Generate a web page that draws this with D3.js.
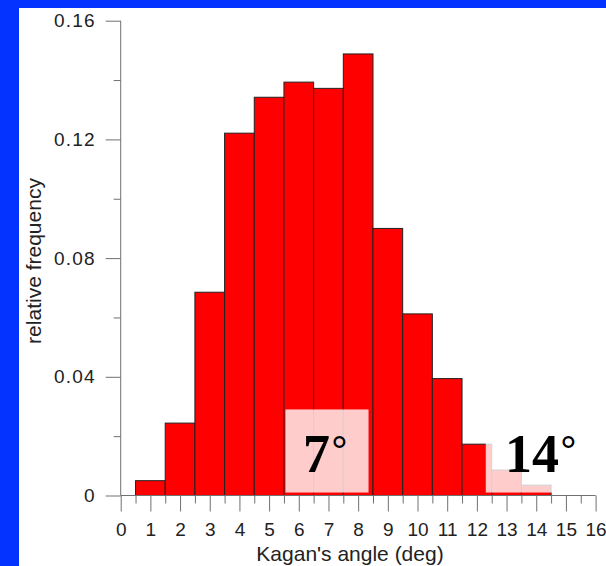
<!DOCTYPE html>
<html>
<head>
<meta charset="utf-8">
<script src="https://cdn.jsdelivr.net/npm/d3@7"></script>
<style>
    body { margin: 0; padding: 0; overflow: hidden; }
</style>
</head>
<body>
<div id="chart"></div>
<script>

// histogram of Kagan's angle, bins centred on integer degrees
let angles = [1, 2, 3, 4, 5, 6, 7, 8, 9, 10, 11, 12, 13, 14];
let freqs = [0.005, 0.0244, 0.0685, 0.1221, 0.1342, 0.1393, 0.1372, 0.1488, 0.0900, 0.0612, 0.0394, 0.0173, 0.0086, 0.0035];

let yMajorTicks = [0, 0.04, 0.08, 0.12, 0.16];
let yMinorTicks = [0.02, 0.06, 0.10, 0.14];
let xMajorTicks = d3.range(0, 17);
let xMinorTicks = d3.range(0.5, 16, 1);

// label boxes: [from, to] in degrees, text
let labels = [
    { from: 5.55, to: 8.35, text: "7" },
    { from: 12.3, to: 15.2, text: "14" }
];
let labelTop = 0.029;
let labelBottom = 0.001;

let width = 606, height = 566;
let sans = "Arial, 'Liberation Sans', sans-serif";
let serif = "'Times New Roman', 'Liberation Serif', serif";

let svg = d3.select("#chart").append("svg")
    .attr("width", width)
    .attr("height", height);

// blue slide background with white panel
svg.append("rect").attr("width", width).attr("height", height).attr("fill", "#0433ff");
svg.append("rect").attr("x", 19).attr("y", 8).attr("width", width - 19).attr("height", height - 8).attr("fill", "#fff");

let x = d3.scaleLinear().domain([0, 16]).range([120.7, 595.6]);
let y = d3.scaleLinear().domain([0, 0.16]).range([495.5, 20.7]);

// bars
svg.append("g").selectAll("rect")
    .data(angles)
    .enter()
    .append("rect")
    .attr("x", d => x(d - 0.5))
    .attr("y", (d, i) => y(freqs[i]))
    .attr("width", d => x(d + 0.5) - x(d - 0.5))
    .attr("height", (d, i) => y(0) - y(freqs[i]))
    .attr("fill", "#ff0000")
    .attr("stroke", "#222")
    .attr("stroke-width", 1);

// axes
let axisColor = "#707070";

let yAxis = svg.append("g")
    .attr("transform", "translate(" + x(0) + ",0)")
    .call(d3.axisLeft(y).tickValues(yMajorTicks).tickSize(15).tickPadding(10)
        .tickFormat(d => d === 0 ? "0" : d3.format(".2f")(d)));
svg.append("g")
    .attr("transform", "translate(" + x(0) + ",0)")
    .call(d3.axisLeft(y).tickValues(yMinorTicks).tickSize(7).tickFormat(""));

let xAxis = svg.append("g")
    .attr("transform", "translate(0," + y(0) + ")")
    .call(d3.axisBottom(x).tickValues(xMajorTicks).tickSize(16).tickPadding(11)
        .tickFormat(d3.format("d")));
svg.append("g")
    .attr("transform", "translate(0," + y(0) + ")")
    .call(d3.axisBottom(x).tickValues(xMinorTicks).tickSize(8).tickFormat(""));

svg.selectAll(".domain").remove();
svg.selectAll(".tick line").attr("stroke", axisColor);

// axis lines: x axis from 0 to 16, y axis from 0 to 0.16
svg.append("line")
    .attr("x1", x(0)).attr("x2", x(16))
    .attr("y1", y(0)).attr("y2", y(0))
    .attr("stroke", axisColor);
svg.append("line")
    .attr("x1", x(0)).attr("x2", x(0))
    .attr("y1", y(0.16)).attr("y2", y(0))
    .attr("stroke", axisColor);

yAxis.selectAll("text")
    .style("font-family", sans)
    .style("font-size", "19px")
    .style("letter-spacing", "1.2px")
    .attr("fill", "#222");
xAxis.selectAll("text")
    .style("font-family", sans)
    .style("font-size", "19px")
    .attr("fill", "#222");

// axis titles
svg.append("text")
    .attr("x", 350)
    .attr("y", 561)
    .attr("text-anchor", "middle")
    .style("font-family", sans)
    .style("font-size", "21px")
    .attr("fill", "#222")
    .text("Kagan's angle (deg)");

svg.append("text")
    .attr("transform", "translate(41,261) rotate(-90)")
    .attr("text-anchor", "middle")
    .style("font-family", sans)
    .style("font-size", "21px")
    .attr("fill", "#222")
    .text("relative frequency");

// translucent label boxes
let lab = svg.append("g").selectAll("g")
    .data(labels)
    .enter()
    .append("g");

lab.append("rect")
    .attr("x", d => x(d.from))
    .attr("y", y(labelTop))
    .attr("width", d => x(d.to) - x(d.from))
    .attr("height", y(labelBottom) - y(labelTop))
    .attr("fill", "#fff")
    .attr("fill-opacity", 0.8);

let labText = lab.append("text")
    .attr("x", (d, i) => i === 0 ? 303 : 505)
    .attr("y", 472)
    .style("font-family", serif)
    .style("font-size", "54px")
    .attr("fill", "#000");

labText.append("tspan")
    .style("font-weight", "bold")
    .text(d => d.text);
labText.append("tspan")
    .attr("dx", 1)
    .attr("dy", -6)
    .style("font-family", sans)
    .style("font-size", "42px")
    .text("°");

</script>
</body>
</html>
